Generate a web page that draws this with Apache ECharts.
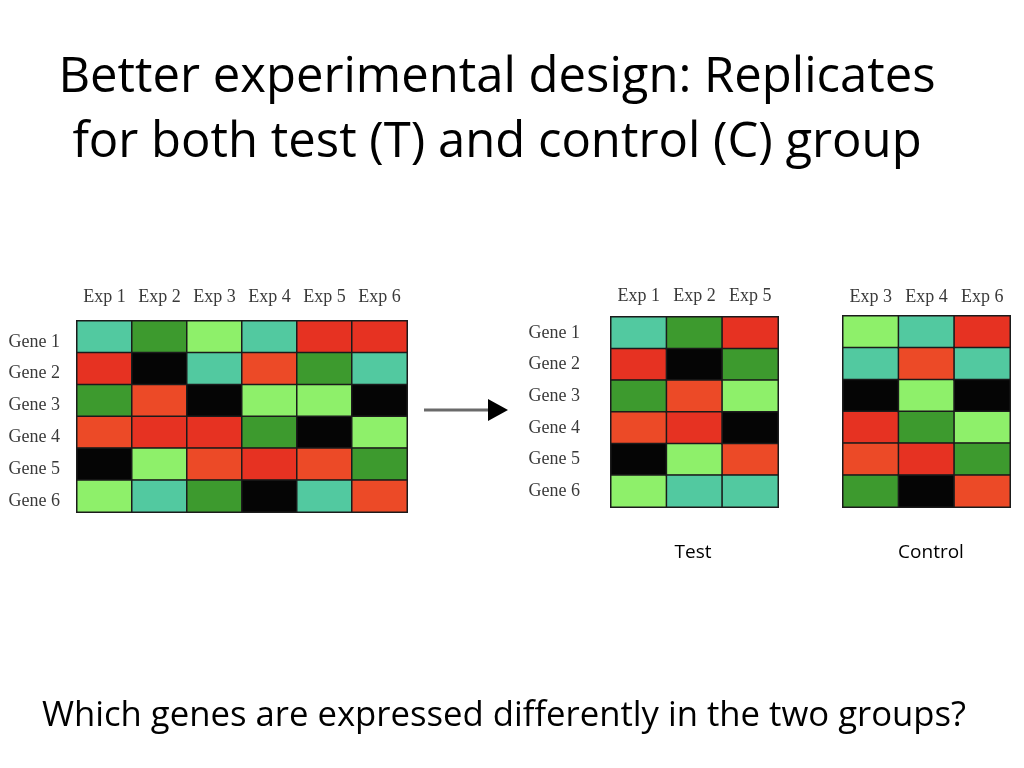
<!DOCTYPE html>
<html>
<head>
<meta charset="utf-8">
<script src="https://cdn.jsdelivr.net/npm/echarts@6/dist/echarts.min.js"></script>
<style>html,body{margin:0;padding:0;background:#fff;}#c{width:1024px;height:768px;}</style>
</head>
<body>
<div id="c"></div>
<script>
// Expression classes: 0 teal, 1 dark green, 2 light green, 3 red, 4 orange-red, 5 black
const genes = ['Gene 1','Gene 2','Gene 3','Gene 4','Gene 5','Gene 6'];
const allExps = ['Exp 1','Exp 2','Exp 3','Exp 4','Exp 5','Exp 6'];
const testExps = ['Exp 1','Exp 2','Exp 5'];
const controlExps = ['Exp 3','Exp 4','Exp 6'];
// rows = genes, columns = experiments (Exp 1..Exp 6)
const expression = [
  [0,1,2,0,3,3],
  [3,5,0,4,1,0],
  [1,4,5,2,2,5],
  [4,3,3,1,5,2],
  [5,2,4,3,4,1],
  [2,0,1,5,0,4]
];
const classColors = ['#52c9a0','#3d9a2e','#8ef06a','#e63222','#ec4a27','#050505'];
const groupLabels = ['Test','Control'];
const titleLines = ['Better experimental design: Replicates','for both test (T) and control (C) group'];
const question = 'Which genes are expressed differently in the two groups?';

function cells(exps){
  const out = [];
  exps.forEach((e, xi) => {
    const col = allExps.indexOf(e);
    genes.forEach((g, yi) => out.push([xi, yi, expression[yi][col]]));
  });
  return out;
}

const chart = echarts.init(document.getElementById('c'));
const grids = [
  {left:77, top:321, width:330, height:191},
  {left:611, top:317, width:167, height:190},
  {left:843, top:316, width:167, height:191}
];
const expSets = [allExps, testExps, controlExps];
const labelFont = {fontFamily:'Liberation Serif', fontSize:18, color:'#3a3a3a'};
const yMargins = [17, 31, 0];
const xMargins = [15, 12, 10];

const xAxes = [], yAxes = [], series = [];
expSets.forEach((exps, i) => {
  xAxes.push({type:'category', gridIndex:i, data:exps, position:'top',
    axisLine:{show:false}, axisTick:{show:false}, splitLine:{show:false},
    axisLabel:Object.assign({interval:0, margin:xMargins[i]}, labelFont)});
  const yLabel = Object.assign({show:i!==2, interval:0, margin:yMargins[i]}, labelFont);
  if (i === 0) {
    yLabel.formatter = '{a|{value}}';
    yLabel.rich = {a:Object.assign({padding:[10,0,0,0]}, labelFont)};
  }
  yAxes.push({type:'category', gridIndex:i, data:genes, inverse:true,
    axisLine:{show:false}, axisTick:{show:false}, splitLine:{show:false},
    axisLabel:yLabel});
  series.push({type:'heatmap', xAxisIndex:i, yAxisIndex:i, data:cells(exps),
    itemStyle:{borderColor:'#1b1b1b', borderWidth:1.5},
    emphasis:{disabled:true}});
});

const textFont = 'Open Sans';
chart.setOption({
  animation:false,
  backgroundColor:'#ffffff',
  grid:grids,
  xAxis:xAxes,
  yAxis:yAxes,
  visualMap:{type:'piecewise', show:false, seriesIndex:[0,1,2], dimension:2,
    pieces:classColors.map((c,k)=>({value:k, color:c}))},
  series:series,
  graphic:[
    {type:'text', x:497, y:78, style:{text:titleLines[0], font:'49px "'+textFont+'"', fill:'#000', align:'center', verticalAlign:'middle'}},
    {type:'text', x:497, y:143, style:{text:titleLines[1], font:'49px "'+textFont+'"', fill:'#000', align:'center', verticalAlign:'middle'}},
    {type:'line', shape:{x1:424, y1:410, x2:492, y2:410}, style:{stroke:'#6a6a6a', lineWidth:3}},
    {type:'polygon', shape:{points:[[488,399],[508,410],[488,421]]}, style:{fill:'#000'}},
    {type:'text', x:693, y:553, style:{text:groupLabels[0], font:'19px "'+textFont+'"', fill:'#000', align:'center', verticalAlign:'middle'}},
    {type:'text', x:931, y:553, style:{text:groupLabels[1], font:'19px "'+textFont+'"', fill:'#000', align:'center', verticalAlign:'middle'}},
    {type:'text', x:504, y:716, style:{text:question, font:'34.7px "'+textFont+'"', fill:'#000', align:'center', verticalAlign:'middle'}}
  ]
});
</script>
</body>
</html>
